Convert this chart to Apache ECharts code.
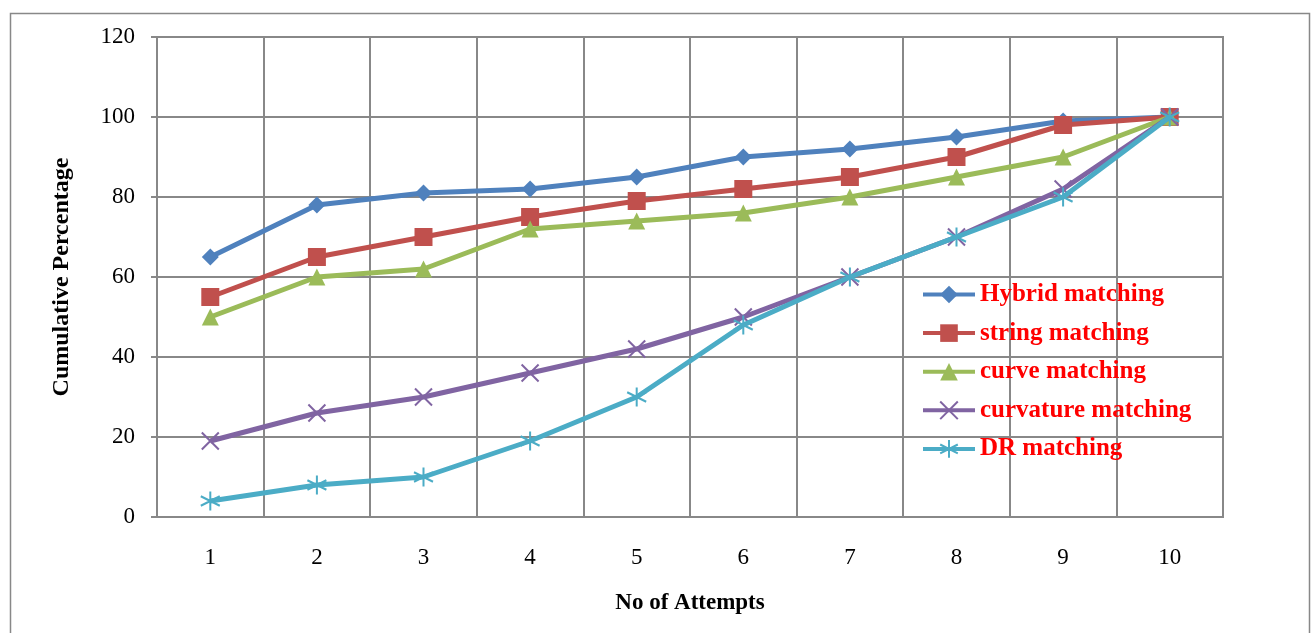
<!DOCTYPE html>
<html><head><meta charset="utf-8">
<script src="https://cdn.jsdelivr.net/npm/echarts@6/dist/echarts.min.js"></script>
<style>html,body{margin:0;padding:0;background:#fff}#c{width:1312px;height:633px}</style>
</head><body><div id="c"></div>
<script>
const categories = ['1','2','3','4','5','6','7','8','9','10'];
const seriesNames = ['Hybrid matching','string matching','curve matching','curvature matching','DR matching'];
const hybrid = [65, 78, 81, 82, 85, 90, 92, 95, 99, 100];
const stringM = [55, 65, 70, 75, 79, 82, 85, 90, 98, 100];
const curve = [50, 60, 62, 72, 74, 76, 80, 85, 90, 100];
const curvature = [19, 26, 30, 36, 42, 50, 60, 70, 82, 100];
const dr = [4, 8, 10, 19, 30, 48, 60, 70, 80, 100];
const yTicks = [0, 20, 40, 60, 80, 100, 120];

const colors = ['#4F81BD','#C0504D','#9BBB59','#8064A2','#4BACC6'];
const symbols = ['diamond','rect','triangle','path://M0,0 L10,10 M10,0 L0,10','path://M5,0 L5,10 M0.7,2.5 L9.3,7.5 M0.7,7.5 L9.3,2.5'];
const sizes = [17, 18, 17, 17, 19];
const dataSets = [hybrid, stringM, curve, curvature, dr];
const font = '"Liberation Serif","Times New Roman",serif';

const series = dataSets.map((d, i) => ({
  name: seriesNames[i], type: 'line', data: d,
  symbol: symbols[i], symbolSize: sizes[i],
  lineStyle: {color: colors[i], width: 5},
  itemStyle: {color: colors[i], borderColor: colors[i], borderWidth: i >= 3 ? 2 : 0},
  emphasis: {disabled: true},
  z: 2 + i
}));

const chart = echarts.init(document.getElementById('c'));
chart.setOption({
  animation: false,
  graphic: [{type: 'rect', shape: {x: 10.5, y: 13.5, width: 1299, height: 640}, style: {fill: 'none', stroke: '#888', lineWidth: 1.5}, z: -1}],
  grid: {left: 157, right: 89, top: 37, bottom: 116, show: true, borderColor: '#888', borderWidth: 2},
  legend: {
    orient: 'vertical', left: 921, top: 282, padding: 0, itemWidth: 52, itemHeight: 22, itemGap: 13.6,
    lineStyle: {width: 4},
    textStyle: {color: '#FF0000', fontWeight: 'bold', fontSize: 25, lineHeight: 22, fontFamily: font},
    data: seriesNames
  },
  xAxis: {
    type: 'category', data: categories, boundaryGap: true,
    name: 'No of Attempts', nameLocation: 'middle', nameGap: 75,
    nameTextStyle: {color: '#000', fontWeight: 'bold', fontSize: 23, fontFamily: font},
    axisLine: {show: true, lineStyle: {color: '#888', width: 2}},
    axisTick: {show: false},
    axisLabel: {color: '#000', fontSize: 23, fontFamily: font, margin: 29},
    splitLine: {show: true, lineStyle: {color: '#888', width: 2}}
  },
  yAxis: {
    type: 'value', min: 0, max: 120, interval: 20,
    name: 'Cumulative Percentage', nameLocation: 'middle', nameGap: 83, nameRotate: 90,
    nameTextStyle: {color: '#000', fontWeight: 'bold', fontSize: 24, fontFamily: font},
    axisLine: {show: true, lineStyle: {color: '#888', width: 2}},
    axisTick: {show: true, length: 6, lineStyle: {color: '#888', width: 2}},
    axisLabel: {color: '#000', fontSize: 23, fontFamily: font, margin: 22,
      formatter: v => yTicks.includes(v) ? String(v) : ''},
    splitLine: {show: true, lineStyle: {color: '#888', width: 2}}
  },
  series: series
});
</script></body></html>
